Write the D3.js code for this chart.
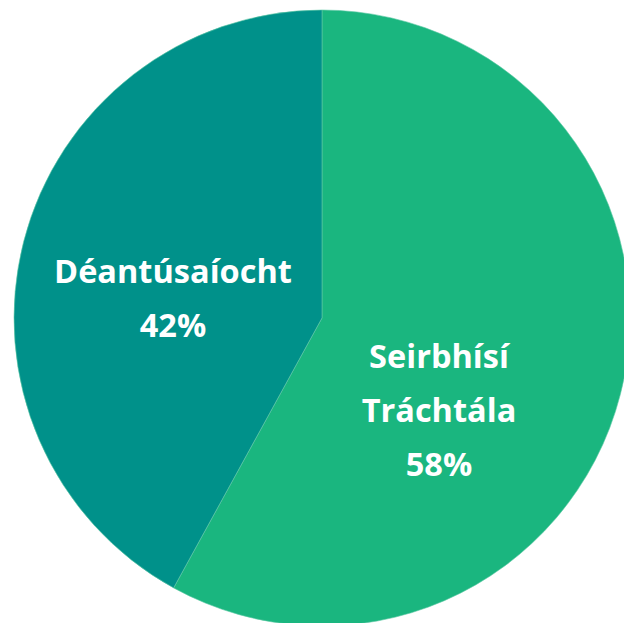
<!DOCTYPE html>
<html>
<head>
<meta charset="utf-8">
<script src="https://cdn.jsdelivr.net/npm/d3@7"></script>
<style>
body { margin: 0; background: #fff; }
svg { display: block; }
</style>
</head>
<body>
<script>
var categories = ["Seirbhísí Tráchtála", "Déantúsaíocht"];
var values = [58, 42];
var labelLines = [["Seirbhísí", "Tráchtála", "58%"], ["Déantúsaíocht", "42%"]];
var colors = ["#1ab67f", "#00918a"];

var width = 624, height = 623;
var cx = 322, cy = 318, radius = 308;

var svg = d3.select("body").append("svg")
	.attr("width", width)
	.attr("height", height);

var pie = d3.pie().sort(null).value(function(d) { return d; });
var arc = d3.arc().innerRadius(0).outerRadius(radius);
var arcs = pie(values);

var g = svg.append("g").attr("transform", "translate(" + cx + "," + cy + ")");

g.selectAll("path")
	.data(arcs)
	.enter().append("path")
	.attr("d", arc)
	.attr("fill", function(d, i) { return colors[i]; })
	.attr("stroke", "#5fc9a6")
	.attr("stroke-width", 0.6);

// pick a font size so the long word is about as wide as in the picture
var probe = svg.append("text")
	.style("font-family", "'Open Sans', sans-serif")
	.style("font-weight", "bold")
	.style("font-size", "30px")
	.text("Déantúsaíocht");
var fontSize = 30 * 238 / probe.node().getComputedTextLength();
probe.remove();

// label anchors (first line baseline), tuned by eye
var labelPos = [[439, 368], [173, 283]];
var lineGap = 54;

arcs.forEach(function(d, i) {
	var lines = labelLines[i];
	var t = svg.append("text")
		.attr("text-anchor", "middle")
		.attr("fill", "#fff")
		.style("font-family", "'Open Sans', sans-serif")
		.style("font-weight", "bold")
		.style("font-size", fontSize + "px");
	lines.forEach(function(s, j) {
		t.append("tspan")
			.attr("x", labelPos[i][0])
			.attr("y", labelPos[i][1] + j * lineGap)
			.text(s);
	});
});
</script>
</body>
</html>
